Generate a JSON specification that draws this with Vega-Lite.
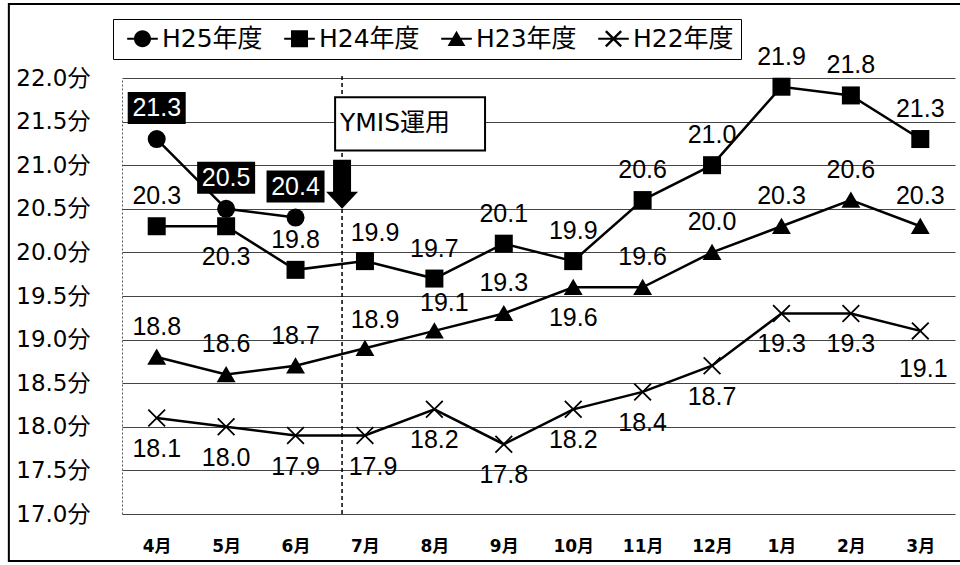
{
  "$schema": "https://vega.github.io/schema/vega-lite/v6.json",
  "width": 833,
  "height": 436,
  "autosize": {"type": "none"},
  "padding": {"left": 122, "top": 78, "right": 5, "bottom": 51},
  "background": "white",
  "config": {"view": {"stroke": null}, "font": "Liberation Sans"},
  "resolve": {"scale": {"shape": "independent"}},
  "datasets": {
    "times": [
      {"series": "H25年度", "m": 1, "month": "4月", "v": 21.3},
      {"series": "H25年度", "m": 2, "month": "5月", "v": 20.5},
      {"series": "H25年度", "m": 3, "month": "6月", "v": 20.4},
      {"series": "H24年度", "m": 1, "month": "4月", "v": 20.3},
      {"series": "H24年度", "m": 2, "month": "5月", "v": 20.3},
      {"series": "H24年度", "m": 3, "month": "6月", "v": 19.8},
      {"series": "H24年度", "m": 4, "month": "7月", "v": 19.9},
      {"series": "H24年度", "m": 5, "month": "8月", "v": 19.7},
      {"series": "H24年度", "m": 6, "month": "9月", "v": 20.1},
      {"series": "H24年度", "m": 7, "month": "10月", "v": 19.9},
      {"series": "H24年度", "m": 8, "month": "11月", "v": 20.6},
      {"series": "H24年度", "m": 9, "month": "12月", "v": 21.0},
      {"series": "H24年度", "m": 10, "month": "1月", "v": 21.9},
      {"series": "H24年度", "m": 11, "month": "2月", "v": 21.8},
      {"series": "H24年度", "m": 12, "month": "3月", "v": 21.3},
      {"series": "H23年度", "m": 1, "month": "4月", "v": 18.8},
      {"series": "H23年度", "m": 2, "month": "5月", "v": 18.6},
      {"series": "H23年度", "m": 3, "month": "6月", "v": 18.7},
      {"series": "H23年度", "m": 4, "month": "7月", "v": 18.9},
      {"series": "H23年度", "m": 5, "month": "8月", "v": 19.1},
      {"series": "H23年度", "m": 6, "month": "9月", "v": 19.3},
      {"series": "H23年度", "m": 7, "month": "10月", "v": 19.6},
      {"series": "H23年度", "m": 8, "month": "11月", "v": 19.6},
      {"series": "H23年度", "m": 9, "month": "12月", "v": 20.0},
      {"series": "H23年度", "m": 10, "month": "1月", "v": 20.3},
      {"series": "H23年度", "m": 11, "month": "2月", "v": 20.6},
      {"series": "H23年度", "m": 12, "month": "3月", "v": 20.3},
      {"series": "H22年度", "m": 1, "month": "4月", "v": 18.1},
      {"series": "H22年度", "m": 2, "month": "5月", "v": 18.0},
      {"series": "H22年度", "m": 3, "month": "6月", "v": 17.9},
      {"series": "H22年度", "m": 4, "month": "7月", "v": 17.9},
      {"series": "H22年度", "m": 5, "month": "8月", "v": 18.2},
      {"series": "H22年度", "m": 6, "month": "9月", "v": 17.8},
      {"series": "H22年度", "m": 7, "month": "10月", "v": 18.2},
      {"series": "H22年度", "m": 8, "month": "11月", "v": 18.4},
      {"series": "H22年度", "m": 9, "month": "12月", "v": 18.7},
      {"series": "H22年度", "m": 10, "month": "1月", "v": 19.3},
      {"series": "H22年度", "m": 11, "month": "2月", "v": 19.3},
      {"series": "H22年度", "m": 12, "month": "3月", "v": 19.1}
    ]
  },
  "data": {"name": "times"},
  "layer": [
    {
      "data": {"values": [{}]},
      "mark": {"type": "rect", "fillOpacity": 0, "stroke": "black", "strokeWidth": 2, "clip": false},
      "encoding": {
        "x": {"datum": -1.13, "type": "quantitative", "scale": {"domain": [0.5, 12.5], "nice": false, "zero": false}},
        "x2": {"datum": 13.6},
        "y": {"datum": 22.85, "type": "quantitative", "scale": {"domain": [17, 22], "nice": false, "zero": false}},
        "y2": {"datum": 16.46}
      }
    },
    {
      "mark": {"type": "line", "color": "black", "strokeWidth": 2.5},
      "encoding": {
        "x": {
          "field": "m", "type": "quantitative",
          "axis": {
            "values": [1, 2, 3, 4, 5, 6, 7, 8, 9, 10, 11, 12],
            "labelExpr": "['4月','5月','6月','7月','8月','9月','10月','11月','12月','1月','2月','3月'][datum.value - 1]",
            "grid": false, "ticks": false, "domain": false, "title": null,
            "labelPadding": 24, "labelFont": "DejaVu Sans, Noto Sans CJK JP",
            "labelFontSize": 17, "labelFontWeight": "bold", "labelColor": "black"
          }
        },
        "y": {
          "field": "v", "type": "quantitative",
          "axis": {
            "values": [17, 17.5, 18, 18.5, 19, 19.5, 20, 20.5, 21, 21.5, 22],
            "labelExpr": "format(datum.value, '.1f') + '分'",
            "grid": true, "gridColor": "#444", "gridWidth": 1,
            "ticks": false, "domain": true, "domainColor": "#555", "domainDash": [2, 2],
            "title": null, "labelPadding": 32,
            "labelFont": "DejaVu Sans, Noto Sans CJK JP", "labelFontSize": 23, "labelColor": "black"
          }
        },
        "detail": {"field": "series"}
      }
    },
    {
      "data": {"values": [{}]},
      "mark": {"type": "rule", "color": "black", "strokeWidth": 1.5, "strokeDash": [4, 3]},
      "encoding": {
        "x": {"datum": 3.67},
        "y": {"datum": 17},
        "y2": {"datum": 22.05}
      }
    },
    {
      "mark": {"type": "point", "filled": true, "size": 324, "color": "black", "strokeWidth": 0, "opacity": 1},
      "encoding": {
        "x": {"field": "m", "type": "quantitative"},
        "y": {"field": "v", "type": "quantitative"},
        "shape": {
          "field": "series", "type": "nominal", "legend": null,
          "scale": {
            "domain": ["H25年度", "H24年度", "H23年度", "H22年度"],
            "range": [
              "circle",
              "square",
              "M0,-0.95L1.05,0.85H-1.05Z",
              "M-0.86,-1L0,-0.14L0.86,-1L1,-0.86L0.14,0L1,0.86L0.86,1L0,0.14L-0.86,1L-1,0.86L-0.14,0L-1,-0.86Z"
            ]
          }
        }
      }
    },
    {
      "transform": [{"filter": "false"}],
      "mark": {"type": "point", "filled": true, "color": "black", "strokeWidth": 0, "opacity": 1},
      "encoding": {
        "x": {"field": "m", "type": "quantitative"},
        "y": {"field": "v", "type": "quantitative"},
        "shape": {
          "field": "series", "type": "nominal",
          "scale": {
            "domain": ["H25年度", "H24年度", "H23年度", "H22年度"],
            "range": [
              "M-1,0A1,1 0 1,1 1,0A1,1 0 1,1 -1,0Z M-1.8,-0.12H-0.9V0.12H-1.8Z M0.9,-0.12H1.8V0.12H0.9Z",
              "M-1,-1H1V1H-1Z M-1.8,-0.12H-0.95V0.12H-1.8Z M0.95,-0.12H1.8V0.12H0.95Z",
              "M0,-0.95L1.05,0.85H-1.05Z M-1.8,-0.12H-0.5V0.12H-1.8Z M0.5,-0.12H1.8V0.12H0.5Z",
              "M-0.8,-1L0,-0.2L0.8,-1L1,-0.8L0.2,0L1,0.8L0.8,1L0,0.2L-0.8,1L-1,0.8L-0.2,0L-1,-0.8Z M-1.8,-0.12H-0.2V0.12H-1.8Z M0.2,-0.12H1.8V0.12H0.2Z"
            ]
          },
          "legend": {
            "orient": "none", "legendX": -9, "legendY": -59,
            "direction": "horizontal", "title": null,
            "strokeColor": "black", "fillColor": "white", "padding": 7,
            "symbolSize": 289, "symbolOffset": 10, "labelOffset": 7, "columnPadding": 14,
            "symbolFillColor": "black", "symbolStrokeWidth": 0,
            "labelFont": "DejaVu Sans, Noto Sans CJK JP", "labelFontSize": 25,
            "labelColor": "black", "labelLimit": 200
          }
        }
      }
    },
    {
      "data": {"values": [{}]},
      "mark": {"type": "rect", "fill": "white", "stroke": "black", "strokeWidth": 2},
      "encoding": {
        "x": {"datum": 3.57},
        "x2": {"datum": 5.73},
        "y": {"datum": 21.78},
        "y2": {"datum": 21.17}
      }
    },
    {
      "data": {"values": [{"note": "YMIS運用"}]},
      "mark": {"type": "text", "align": "left", "baseline": "middle", "font": "DejaVu Sans, Noto Sans CJK JP", "fontSize": 25, "color": "black"},
      "encoding": {
        "x": {"datum": 3.64},
        "y": {"datum": 21.48},
        "text": {"field": "note"}
      }
    },
    {
      "data": {"values": [{}]},
      "mark": {
        "type": "point", "filled": true, "color": "black", "opacity": 1, "strokeWidth": 0, "size": 1024,
        "shape": "M-0.5625,-3.06H0.5625V-1.06H1L0,0L-1,-1.06H-0.5625Z"
      },
      "encoding": {
        "x": {"datum": 3.67},
        "y": {"datum": 20.5}
      }
    },
    {
      "transform": [{"filter": "datum.series === 'H25年度'"}],
      "mark": {
        "type": "point", "filled": true, "color": "black", "opacity": 1, "strokeWidth": 0, "size": 3364,
        "shape": "M-1,-1.62H1V-0.517H-1Z"
      },
      "encoding": {
        "x": {"field": "m", "type": "quantitative"},
        "y": {"field": "v", "type": "quantitative"}
      }
    },
    {
      "transform": [{"filter": "datum.series === 'H25年度'"}],
      "mark": {"type": "text", "color": "white", "fontSize": 25, "baseline": "middle", "dy": -31},
      "encoding": {
        "x": {"field": "m", "type": "quantitative"},
        "y": {"field": "v", "type": "quantitative"},
        "text": {"field": "v", "format": ".1f"}
      }
    },
    {
      "transform": [{"filter": "(datum.series === 'H24年度' && datum.m !== 2 && datum.m !== 4) || (datum.series === 'H23年度' && datum.m !== 7 && datum.m !== 4 && datum.m !== 5)"}],
      "mark": {"type": "text", "color": "black", "fontSize": 25, "baseline": "middle", "dy": -30},
      "encoding": {
        "x": {"field": "m", "type": "quantitative"},
        "y": {"field": "v", "type": "quantitative"},
        "text": {"field": "v", "format": ".1f"}
      }
    },
    {
      "transform": [{"filter": "(datum.series === 'H24年度' && datum.m === 4) || (datum.series === 'H23年度' && (datum.m === 4 || datum.m === 5))"}],
      "mark": {"type": "text", "color": "black", "fontSize": 25, "baseline": "middle", "dy": -28, "dx": 10},
      "encoding": {
        "x": {"field": "m", "type": "quantitative"},
        "y": {"field": "v", "type": "quantitative"},
        "text": {"field": "v", "format": ".1f"}
      }
    },
    {
      "transform": [{"filter": "(datum.series === 'H22年度' && datum.m !== 4 && datum.m !== 12) || (datum.series === 'H24年度' && datum.m === 2) || (datum.series === 'H23年度' && datum.m === 7)"}],
      "mark": {"type": "text", "color": "black", "fontSize": 25, "baseline": "middle", "dy": 31},
      "encoding": {
        "x": {"field": "m", "type": "quantitative"},
        "y": {"field": "v", "type": "quantitative"},
        "text": {"field": "v", "format": ".1f"}
      }
    },
    {
      "transform": [{"filter": "datum.series === 'H22年度' && datum.m === 4"}],
      "mark": {"type": "text", "color": "black", "fontSize": 25, "baseline": "middle", "dy": 31, "dx": 8},
      "encoding": {
        "x": {"field": "m", "type": "quantitative"},
        "y": {"field": "v", "type": "quantitative"},
        "text": {"field": "v", "format": ".1f"}
      }
    },
    {
      "transform": [{"filter": "datum.series === 'H22年度' && datum.m === 12"}],
      "mark": {"type": "text", "color": "black", "fontSize": 25, "baseline": "middle", "dy": 38, "dx": 3},
      "encoding": {
        "x": {"field": "m", "type": "quantitative"},
        "y": {"field": "v", "type": "quantitative"},
        "text": {"field": "v", "format": ".1f"}
      }
    }
  ]
}
